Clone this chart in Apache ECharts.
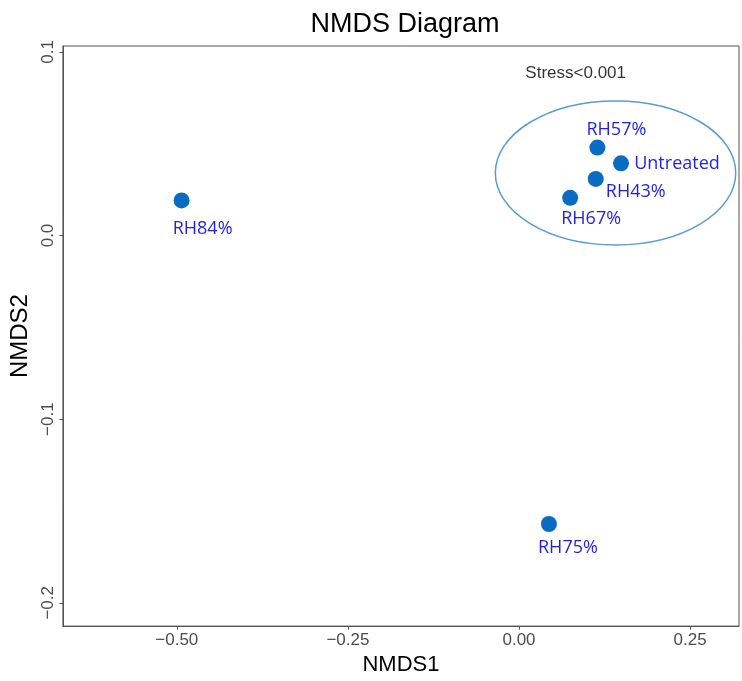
<!DOCTYPE html>
<html>
<head>
<meta charset="utf-8">
<script src="https://cdn.jsdelivr.net/npm/echarts@6/dist/echarts.min.js"></script>
<style>
html,body{margin:0;padding:0;background:#fff;}
#chart{width:742px;height:681px;}
</style>
</head>
<body>
<div id="chart"></div>
<script>
// ---- data ----
const sampleNames = ['RH84%', 'RH75%', 'RH57%', 'Untreated', 'RH43%', 'RH67%'];
const nmds1 = [-0.493, 0.0437, 0.1145, 0.149, 0.1121, 0.0747];
const nmds2 = [0.0191, -0.1571, 0.0479, 0.0393, 0.0308, 0.0205];
const xTicks = [-0.5, -0.25, 0, 0.25];
const xTickLabels = ['\u22120.50', '\u22120.25', '0.00', '0.25'];
const yTicks = [-0.2, -0.1, 0, 0.1];
const yTickLabels = ['\u22120.2', '\u22120.1', '0.0', '0.1'];
const ellipseCenter = [0.141, 0.0341];
const ellipseRadii = [0.1756, 0.0392];
const stressText = 'Stress<0.001';
const stressPos = [0.0828, 0.0885];

// ---- styles (label offsets in pixels) ----
const labelOffsets = [[21, 28], [19, 24], [19, -18], [56, 1], [40, 13], [21, 21]];

const chart = echarts.init(document.getElementById('chart'));
const axisFont = '"Liberation Sans", Arial, sans-serif';

const option = {
  backgroundColor: '#fff',
  animation: false,
  title: {
    text: 'NMDS Diagram',
    left: 400,
    textAlign: 'center',
    top: 6,
    textStyle: { fontFamily: axisFont, fontSize: 27, fontWeight: 'normal', color: '#000' }
  },
  grid: {
    left: 61, top: 46, right: 3, bottom: 51,
    show: true, borderColor: '#555', borderWidth: 1, backgroundColor: '#fff'
  },
  xAxis: {
    type: 'value',
    min: -0.6664, max: 0.3214,
    name: 'NMDS1', nameLocation: 'middle', nameGap: 26,
    nameTextStyle: { fontFamily: axisFont, fontSize: 22, color: '#000' },
    axisLine: { show: true, onZero: false, lineStyle: { color: '#555', width: 1 } },
    axisTick: { show: true, customValues: xTicks, length: 3.5, lineStyle: { color: '#555' } },
    axisLabel: {
      customValues: xTicks, margin: 6,
      fontFamily: axisFont, fontSize: 17, color: '#4D4D4D',
      formatter: v => { const i = xTicks.findIndex(t => Math.abs(t - v) < 1e-9); return i >= 0 ? xTickLabels[i] : ''; }
    },
    splitLine: { show: false }
  },
  yAxis: {
    type: 'value',
    min: -0.2127, max: 0.1032,
    name: 'NMDS2', nameLocation: 'middle', nameGap: 28, nameRotate: 90,
    nameTextStyle: { fontFamily: axisFont, fontSize: 24, color: '#000' },
    axisLine: { show: true, onZero: false, lineStyle: { color: '#555', width: 1 } },
    axisTick: { show: true, customValues: yTicks, length: 3.5, lineStyle: { color: '#555' } },
    axisLabel: {
      customValues: yTicks, margin: 6, rotate: 90,
      fontFamily: axisFont, fontSize: 17, color: '#4D4D4D',
      formatter: v => { const i = yTicks.findIndex(t => Math.abs(t - v) < 1e-9); return i >= 0 ? yTickLabels[i] : ''; }
    },
    splitLine: { show: false }
  },
  series: [
    {
      type: 'custom',
      silent: true,
      data: [[ellipseCenter[0], ellipseCenter[1], ellipseRadii[0], ellipseRadii[1]]],
      renderItem: function (params, api) {
        const c = api.coord([api.value(0), api.value(1)]);
        const s = api.size([api.value(2), api.value(3)]);
        const rx = s[0], ry = s[1];
        const d = 'M ' + (c[0] - rx) + ' ' + c[1] +
          ' A ' + rx + ' ' + ry + ' 0 1 0 ' + (c[0] + rx) + ' ' + c[1] +
          ' A ' + rx + ' ' + ry + ' 0 1 0 ' + (c[0] - rx) + ' ' + c[1] + ' Z';
        return {
          type: 'path',
          shape: { pathData: d },
          style: { fill: 'none', stroke: '#5B9BD5', lineWidth: 1.5 }
        };
      }
    },
    {
      type: 'scatter',
      symbol: 'circle',
      symbolSize: 16,
      itemStyle: { color: '#0A6BC2', opacity: 1 },
      data: sampleNames.map((n, i) => ({
        name: n,
        value: [nmds1[i], nmds2[i]],
        label: {
          show: true, position: 'inside', offset: labelOffsets[i],
          formatter: n,
          fontFamily: '"Open Sans", "Noto Sans", sans-serif', fontSize: 18,
          color: '#1F1FEF', opacity: 1
        }
      }))
    },
    {
      type: 'scatter',
      symbolSize: 0,
      silent: true,
      data: [{ value: stressPos, label: {
        show: true, position: 'inside', formatter: stressText,
        fontFamily: axisFont, fontSize: 17, color: '#000'
      } }]
    }
  ]
};
chart.setOption(option);
</script>
</body>
</html>
